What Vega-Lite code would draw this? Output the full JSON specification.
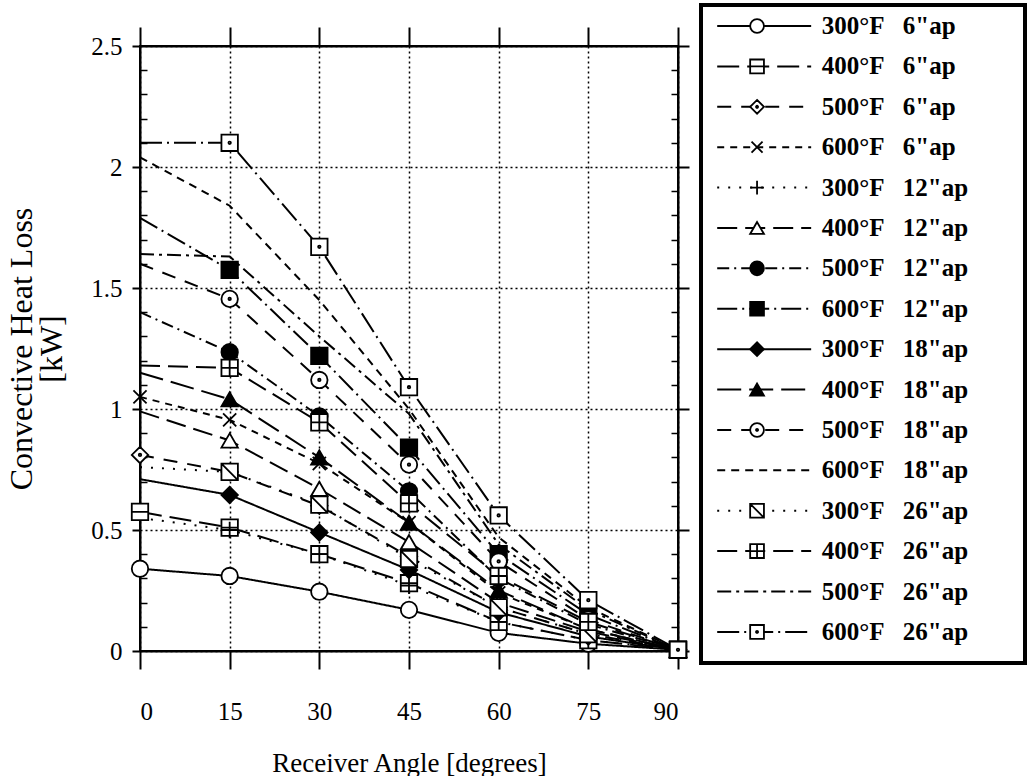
{
"$schema":"https://vega.github.io/schema/vega-lite/v6.json",
"padding":{"left":5,"top":3,"right":0,"bottom":0},
"background":"white",
"config":{"font":"Liberation Serif","view":{"stroke":null}},
"datasets":{
"curves":[
{"k":"300-6","ap":6,"a":0,"q":0.34},{"k":"300-6","ap":6,"a":15,"q":0.31},{"k":"300-6","ap":6,"a":30,"q":0.245},{"k":"300-6","ap":6,"a":45,"q":0.17},{"k":"300-6","ap":6,"a":60,"q":0.075},{"k":"300-6","ap":6,"a":75,"q":0.03},{"k":"300-6","ap":6,"a":90,"q":0.005},
{"k":"400-6","ap":6,"a":0,"q":0.575},{"k":"400-6","ap":6,"a":15,"q":0.51},{"k":"400-6","ap":6,"a":30,"q":0.4},{"k":"400-6","ap":6,"a":45,"q":0.28},{"k":"400-6","ap":6,"a":60,"q":0.12},{"k":"400-6","ap":6,"a":75,"q":0.045},{"k":"400-6","ap":6,"a":90,"q":0.005},
{"k":"500-6","ap":6,"a":0,"q":0.81},{"k":"500-6","ap":6,"a":15,"q":0.74},{"k":"500-6","ap":6,"a":30,"q":0.6},{"k":"500-6","ap":6,"a":45,"q":0.39},{"k":"500-6","ap":6,"a":60,"q":0.18},{"k":"500-6","ap":6,"a":75,"q":0.07},{"k":"500-6","ap":6,"a":90,"q":0.005},
{"k":"600-6","ap":6,"a":0,"q":1.05},{"k":"600-6","ap":6,"a":15,"q":0.955},{"k":"600-6","ap":6,"a":30,"q":0.775},{"k":"600-6","ap":6,"a":45,"q":0.53},{"k":"600-6","ap":6,"a":60,"q":0.24},{"k":"600-6","ap":6,"a":75,"q":0.09},{"k":"600-6","ap":6,"a":90,"q":0.005},
{"k":"300-12","ap":12,"a":0,"q":0.55},{"k":"300-12","ap":12,"a":15,"q":0.5},{"k":"300-12","ap":12,"a":30,"q":0.4},{"k":"300-12","ap":12,"a":45,"q":0.27},{"k":"300-12","ap":12,"a":60,"q":0.12},{"k":"300-12","ap":12,"a":75,"q":0.045},{"k":"300-12","ap":12,"a":90,"q":0.005},
{"k":"400-12","ap":12,"a":0,"q":0.99},{"k":"400-12","ap":12,"a":15,"q":0.87},{"k":"400-12","ap":12,"a":30,"q":0.67},{"k":"400-12","ap":12,"a":45,"q":0.45},{"k":"400-12","ap":12,"a":60,"q":0.2},{"k":"400-12","ap":12,"a":75,"q":0.08},{"k":"400-12","ap":12,"a":90,"q":0.005},
{"k":"500-12","ap":12,"a":0,"q":1.4},{"k":"500-12","ap":12,"a":15,"q":1.235},{"k":"500-12","ap":12,"a":30,"q":0.97},{"k":"500-12","ap":12,"a":45,"q":0.66},{"k":"500-12","ap":12,"a":60,"q":0.3},{"k":"500-12","ap":12,"a":75,"q":0.11},{"k":"500-12","ap":12,"a":90,"q":0.005},
{"k":"600-12","ap":12,"a":0,"q":1.79},{"k":"600-12","ap":12,"a":15,"q":1.575},{"k":"600-12","ap":12,"a":30,"q":1.22},{"k":"600-12","ap":12,"a":45,"q":0.84},{"k":"600-12","ap":12,"a":60,"q":0.4},{"k":"600-12","ap":12,"a":75,"q":0.15},{"k":"600-12","ap":12,"a":90,"q":0.005},
{"k":"300-18","ap":18,"a":0,"q":0.71},{"k":"300-18","ap":18,"a":15,"q":0.645},{"k":"300-18","ap":18,"a":30,"q":0.49},{"k":"300-18","ap":18,"a":45,"q":0.335},{"k":"300-18","ap":18,"a":60,"q":0.16},{"k":"300-18","ap":18,"a":75,"q":0.06},{"k":"300-18","ap":18,"a":90,"q":0.005},
{"k":"400-18","ap":18,"a":0,"q":1.15},{"k":"400-18","ap":18,"a":15,"q":1.04},{"k":"400-18","ap":18,"a":30,"q":0.8},{"k":"400-18","ap":18,"a":45,"q":0.53},{"k":"400-18","ap":18,"a":60,"q":0.25},{"k":"400-18","ap":18,"a":75,"q":0.09},{"k":"400-18","ap":18,"a":90,"q":0.005},
{"k":"500-18","ap":18,"a":0,"q":1.6},{"k":"500-18","ap":18,"a":15,"q":1.455},{"k":"500-18","ap":18,"a":30,"q":1.12},{"k":"500-18","ap":18,"a":45,"q":0.77},{"k":"500-18","ap":18,"a":60,"q":0.37},{"k":"500-18","ap":18,"a":75,"q":0.13},{"k":"500-18","ap":18,"a":90,"q":0.005},
{"k":"600-18","ap":18,"a":0,"q":2.04},{"k":"600-18","ap":18,"a":15,"q":1.84},{"k":"600-18","ap":18,"a":30,"q":1.45},{"k":"600-18","ap":18,"a":45,"q":1.0},{"k":"600-18","ap":18,"a":60,"q":0.47},{"k":"600-18","ap":18,"a":75,"q":0.18},{"k":"600-18","ap":18,"a":90,"q":0.005},
{"k":"300-26","ap":26,"a":0,"q":0.76},{"k":"300-26","ap":26,"a":15,"q":0.74},{"k":"300-26","ap":26,"a":30,"q":0.605},{"k":"300-26","ap":26,"a":45,"q":0.38},{"k":"300-26","ap":26,"a":60,"q":0.18},{"k":"300-26","ap":26,"a":75,"q":0.07},{"k":"300-26","ap":26,"a":90,"q":0.005},
{"k":"400-26","ap":26,"a":0,"q":1.18},{"k":"400-26","ap":26,"a":15,"q":1.17},{"k":"400-26","ap":26,"a":30,"q":0.945},{"k":"400-26","ap":26,"a":45,"q":0.61},{"k":"400-26","ap":26,"a":60,"q":0.31},{"k":"400-26","ap":26,"a":75,"q":0.12},{"k":"400-26","ap":26,"a":90,"q":0.005},
{"k":"500-26","ap":26,"a":0,"q":1.64},{"k":"500-26","ap":26,"a":15,"q":1.63},{"k":"500-26","ap":26,"a":30,"q":1.3},{"k":"500-26","ap":26,"a":45,"q":0.98},{"k":"500-26","ap":26,"a":60,"q":0.44},{"k":"500-26","ap":26,"a":75,"q":0.17},{"k":"500-26","ap":26,"a":90,"q":0.005},
{"k":"600-26","ap":26,"a":0,"q":2.1},{"k":"600-26","ap":26,"a":15,"q":2.1},{"k":"600-26","ap":26,"a":30,"q":1.67},{"k":"600-26","ap":26,"a":45,"q":1.09},{"k":"600-26","ap":26,"a":60,"q":0.56},{"k":"600-26","ap":26,"a":75,"q":0.21},{"k":"600-26","ap":26,"a":90,"q":0.005}
],
"legend":[
{"k":"300-6","row":1,"temp":"300°F","ap":"6\"ap"},
{"k":"400-6","row":2,"temp":"400°F","ap":"6\"ap"},
{"k":"500-6","row":3,"temp":"500°F","ap":"6\"ap"},
{"k":"600-6","row":4,"temp":"600°F","ap":"6\"ap"},
{"k":"300-12","row":5,"temp":"300°F","ap":"12\"ap"},
{"k":"400-12","row":6,"temp":"400°F","ap":"12\"ap"},
{"k":"500-12","row":7,"temp":"500°F","ap":"12\"ap"},
{"k":"600-12","row":8,"temp":"600°F","ap":"12\"ap"},
{"k":"300-18","row":9,"temp":"300°F","ap":"18\"ap"},
{"k":"400-18","row":10,"temp":"400°F","ap":"18\"ap"},
{"k":"500-18","row":11,"temp":"500°F","ap":"18\"ap"},
{"k":"600-18","row":12,"temp":"600°F","ap":"18\"ap"},
{"k":"300-26","row":13,"temp":"300°F","ap":"26\"ap"},
{"k":"400-26","row":14,"temp":"400°F","ap":"26\"ap"},
{"k":"500-26","row":15,"temp":"500°F","ap":"26\"ap"},
{"k":"600-26","row":16,"temp":"600°F","ap":"26\"ap"}
]
},
"width":538,"height":605,
"view":{"stroke":"black","strokeWidth":2},
"layer":[
{
"data":{"name":"curves"},
"layer":[
{
"mark":{"type":"line","stroke":"black","strokeWidth":2},
"encoding":{
"x":{"field":"a","type":"quantitative","scale":{"domain":[0,90],"nice":false},
"axis":{"orient":"bottom","values":[0,15,30,45,60,75,90],"title":"Receiver Angle [degrees]","grid":true,"gridDash":[2,3],"gridColor":"black","gridWidth":1.5,"gridOpacity":1,"domainColor":"black","domainWidth":2,"tickColor":"black","tickWidth":2,"tickSize":18,"labelFontSize":25,"labelPadding":30,"labelColor":"black","labelFont":"Liberation Serif","titleFont":"Liberation Serif","titleFontSize":27,"titleFontWeight":"normal","titleColor":"black","titlePadding":26}},
"y":{"field":"q","type":"quantitative","scale":{"domain":[0,2.5],"nice":false},
"axis":{"orient":"left","values":[0,0.5,1,1.5,2,2.5],"format":"~g","title":["Convective Heat Loss","[kW]"],"grid":true,"gridDash":[2,3],"gridColor":"black","gridWidth":1.5,"gridOpacity":1,"domainColor":"black","domainWidth":2,"tickColor":"black","tickWidth":2,"tickSize":8,"labelFontSize":25,"labelPadding":10,"labelColor":"black","labelFont":"Liberation Serif","titleFont":"Liberation Serif","titleFontSize":32,"titleLineHeight":30,"titleFontWeight":"normal","titleColor":"black","titlePadding":22}},
"strokeDash":{"field":"k","type":"nominal","legend":null,
"scale":{"domain":["300-6","400-6","500-6","600-6","300-12","400-12","500-12","600-12","300-18","400-18","500-18","600-18","300-26","400-26","500-26","600-26"],
"range":[[1,0],[22,8],[14,10],[7,6],[2,9],[20,8],[12,5,2,5],[20,5,2,5],[1,0],[24,8],[14,10],[8,6],[2,9],[20,8],[14,5,3,5],[22,5,2,5]]}}
}
},
{
"transform":[{"filter":"datum.a > 0 || datum.ap == 6"}],
"mark":{"type":"point","filled":true,"stroke":"black","strokeWidth":1.8,"opacity":1},
"encoding":{
"x":{"field":"a","type":"quantitative","axis":{"orient":"top","values":[0,15,30,45,60,75,90],"labels":false,"title":null,"grid":false,"domain":true,"domainColor":"black","domainWidth":2,"tickColor":"black","tickWidth":2,"tickSize":19}},
"y":{"field":"q","type":"quantitative","axis":{"orient":"right","values":[0.1,0.2,0.3,0.4,0.6,0.7,0.8,0.9,1.1,1.2,1.3,1.4,1.6,1.7,1.8,1.9,2.1,2.2,2.3,2.4],"labels":false,"title":null,"grid":false,"domain":false,"tickColor":"black","tickWidth":1.5,"tickSize":-7}},
"shape":{"field":"k","type":"nominal","legend":null,
"scale":{"domain":["300-6","400-6","500-6","600-6","300-12","400-12","500-12","600-12","300-18","400-18","500-18","600-18","300-26","400-26","500-26","600-26"],
"range":["circle","M-1,-1H1V1H-1Z M-1,0H1","M0,-1L1,0L0,1L-1,0Z M0.15,0A0.15,0.15 0 1,1 -0.15,0A0.15,0.15 0 1,1 0.15,0Z","M-0.8,-0.8L0.8,0.8M-0.8,0.8L0.8,-0.8","M-1,0H1M0,-1V1","triangle-up","circle","square","diamond","triangle-up","M1,0A1,1 0 1,1 -1,0A1,1 0 1,1 1,0Z M0.15,0A0.15,0.15 0 1,1 -0.15,0A0.15,0.15 0 1,1 0.15,0Z","M0,0","M-1,-1H1V1H-1Z M-1,-1L1,1","M-1,-1H1V1H-1Z M-1,0H1 M0,-1V1","M0,0","M-1,-1H1V1H-1Z M0.15,0A0.15,0.15 0 1,1 -0.15,0A0.15,0.15 0 1,1 0.15,0Z"]}},
"fill":{"field":"k","type":"nominal","legend":null,
"scale":{"domain":["300-6","400-6","500-6","600-6","300-12","400-12","500-12","600-12","300-18","400-18","500-18","600-18","300-26","400-26","500-26","600-26"],
"range":["white","white","white","white","white","white","black","black","black","black","white","white","white","white","white","white"]}},
"size":{"value":270}
}
},
{
"mark":{"type":"point","opacity":0},
"encoding":{
"x":{"field":"a","type":"quantitative","axis":null},
"y":{"field":"q","type":"quantitative","axis":{"orient":"left","values":[0.1,0.2,0.3,0.4,0.6,0.7,0.8,0.9,1.1,1.2,1.3,1.4,1.6,1.7,1.8,1.9,2.1,2.2,2.3,2.4],"labels":false,"title":null,"grid":false,"domain":false,"tickColor":"black","tickWidth":1.5,"tickSize":-7}}
}
},
{
"mark":{"type":"point","opacity":0},
"encoding":{
"x":{"field":"a","type":"quantitative","axis":null},
"y":{"field":"q","type":"quantitative","axis":{"orient":"right","values":[0,0.5,1,1.5,2,2.5],"labels":false,"title":null,"grid":false,"domain":true,"domainColor":"black","domainWidth":2,"tickColor":"black","tickWidth":2,"tickSize":11}}
}
}
],
"resolve":{"axis":{"x":"independent","y":"independent"}}
},
{
"data":{"name":"legend"},
"encoding":{
"y":{"field":"row","type":"quantitative","axis":null,"scale":{"domain":[0.48,16.77],"range":[-41,617],"zero":false,"nice":false}}
},
"layer":[
{
"mark":{"type":"rect","fill":"white","fillOpacity":0,"stroke":"black","strokeWidth":3},
"encoding":{
"x":{"datum":0,"type":"quantitative","scale":{"domain":[0,100],"range":[561,885],"nice":false,"zero":false},"axis":null},
"x2":{"datum":100},
"y":{"datum":0.48,"type":"quantitative"},
"y2":{"datum":16.77}
}
},
{
"mark":{"type":"rule","stroke":"black","strokeWidth":2},
"encoding":{
"x":{"datum":5,"type":"quantitative"},
"x2":{"datum":34},
"strokeDash":{"field":"k","type":"nominal","legend":null,
"scale":{"domain":["300-6","400-6","500-6","600-6","300-12","400-12","500-12","600-12","300-18","400-18","500-18","600-18","300-26","400-26","500-26","600-26"],
"range":[[1,0],[22,8],[14,10],[7,6],[2,9],[20,8],[12,5,2,5],[20,5,2,5],[1,0],[24,8],[14,10],[8,6],[2,9],[20,8],[14,5,3,5],[22,5,2,5]]}}
}
},
{
"mark":{"type":"point","filled":true,"stroke":"black","strokeWidth":1.8,"opacity":1},
"encoding":{
"x":{"datum":17.3,"type":"quantitative"},
"shape":{"field":"k","type":"nominal","legend":null,
"scale":{"domain":["300-6","400-6","500-6","600-6","300-12","400-12","500-12","600-12","300-18","400-18","500-18","600-18","300-26","400-26","500-26","600-26"],
"range":["circle","M-1,-1H1V1H-1Z M-1,0H1","M0,-1L1,0L0,1L-1,0Z M0.15,0A0.15,0.15 0 1,1 -0.15,0A0.15,0.15 0 1,1 0.15,0Z","M-0.8,-0.8L0.8,0.8M-0.8,0.8L0.8,-0.8","M-1,0H1M0,-1V1","triangle-up","circle","square","diamond","triangle-up","M1,0A1,1 0 1,1 -1,0A1,1 0 1,1 1,0Z M0.15,0A0.15,0.15 0 1,1 -0.15,0A0.15,0.15 0 1,1 0.15,0Z","M0,0","M-1,-1H1V1H-1Z M-1,-1L1,1","M-1,-1H1V1H-1Z M-1,0H1 M0,-1V1","M0,0","M-1,-1H1V1H-1Z M0.15,0A0.15,0.15 0 1,1 -0.15,0A0.15,0.15 0 1,1 0.15,0Z"]}},
"fill":{"field":"k","type":"nominal","legend":null,
"scale":{"domain":["300-6","400-6","500-6","600-6","300-12","400-12","500-12","600-12","300-18","400-18","500-18","600-18","300-26","400-26","500-26","600-26"],
"range":["white","white","white","white","white","white","black","black","black","black","white","white","white","white","white","white"]}},
"size":{"value":190}
}
},
{
"mark":{"type":"text","align":"left","baseline":"middle","fontSize":25,"fontWeight":"bold","font":"Liberation Serif","color":"black"},
"encoding":{"x":{"datum":37.3,"type":"quantitative"},"text":{"field":"temp"}}
},
{
"mark":{"type":"text","align":"left","baseline":"middle","fontSize":25,"fontWeight":"bold","font":"Liberation Serif","color":"black"},
"encoding":{"x":{"datum":62.3,"type":"quantitative"},"text":{"field":"ap"}}
}
]
}
],
"resolve":{"scale":{"x":"independent","y":"independent"},"axis":{"x":"independent","y":"independent"}}
}
